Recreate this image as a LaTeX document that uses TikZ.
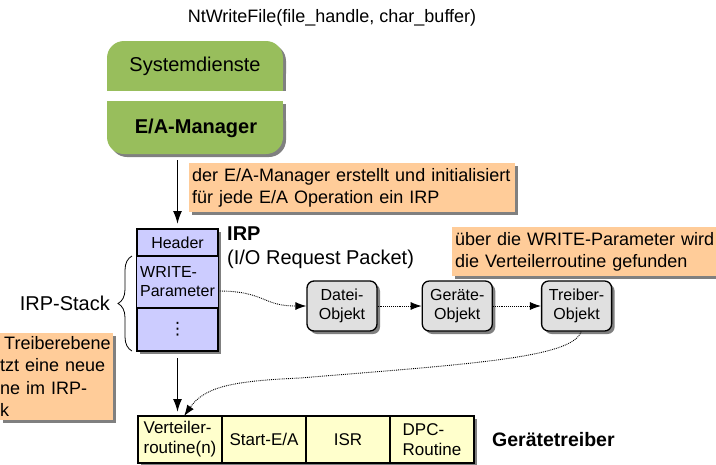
\documentclass[tikz,border=0pt]{standalone}
\usepackage{fontspec}
\setmainfont{Liberation Sans}
\newfontfamily\symfont{DejaVu Sans}
\usepackage{tikz}
\usetikzlibrary{shapes}
\usetikzlibrary{calc}
\usetikzlibrary{arrows.meta}
\usetikzlibrary{shadows}
\usetikzlibrary{decorations.pathreplacing}
\usetikzlibrary{positioning}

\definecolor{mgrgreen}{RGB}{152,190,92}
\definecolor{notepeach}{RGB}{255,204,153}
\definecolor{irpblue}{RGB}{204,204,255}
\definecolor{objgray}{RGB}{224,224,224}
\definecolor{drvyellow}{RGB}{255,255,204}
\definecolor{shadowgray}{RGB}{128,128,128}

\tikzset{
	dropsh/.style={drop shadow={shadow xshift=3pt, shadow yshift=-3pt, fill=shadowgray, opacity=1}},
	note/.style={fill=notepeach, dropsh, anchor=north west, align=left, inner xsep=3pt, inner ysep=2pt, font=\fontsize{18}{21.5}\selectfont},
	irpcell/.style={draw, line width=1.2pt, outer sep=0pt, fill=irpblue, dropsh, minimum width=81pt, font=\fontsize{16}{19}\selectfont},
	obj/.style={draw, line width=1.3pt, fill=objgray, dropsh, rounded corners=7pt, minimum width=70pt, minimum height=50pt, align=center, font=\fontsize{16}{19}\selectfont},
	drvcell/.style={draw, line width=1.1pt, outer sep=0pt, fill=drvyellow, dropsh, minimum width=84pt, minimum height=47pt, align=left, font=\fontsize{17}{20}\selectfont},
	flow/.style={-{Latex[length=13pt,width=9pt]}, line width=1.6pt},
	link/.style={-{Latex[length=11pt,width=8pt]}, densely dotted, line width=0.9pt}
}

\begin{document}
\begin{tikzpicture}[x=1pt,y=-1pt]
	\useasboundingbox (0,0) rectangle (716,464);

	% Title
	\node[font=\fontsize{18}{21}\selectfont] (title) at (332,18) {NtWriteFile(file\_handle, char\_buffer)};

	% System services and I/O manager
	\fill[shadowgray, rounded corners=17pt] (110,44) rectangle (286,90.5);
	\fill[shadowgray] (110,70) rectangle (286,90.5);
	\fill[mgrgreen, rounded corners=17pt] (107,41) rectangle (283,90.5);
	\fill[mgrgreen] (107,70) rectangle (283,90.5);
	\node[font=\fontsize{20}{24}\selectfont] (sys) at (195,66) {Systemdienste};

	\fill[shadowgray, rounded corners=17pt] (110,104) rectangle (286,157);
	\fill[shadowgray] (110,104) rectangle (286,130);
	\fill[mgrgreen, rounded corners=17pt] (107,101) rectangle (283,154);
	\fill[mgrgreen] (107,101) rectangle (283,125);
	\node[font=\fontsize{20}{24}\selectfont\bfseries] (mgr) at (196,128) {E/A-Manager};
	\coordinate (mgrbot) at (177.5,154);

	% Notes
	\node[note, text width=320pt, minimum height=49pt] (noteA) at (189,163) {der E/A-Manager erstellt und initialisiert\\für jede E/A Operation ein IRP};
	\node[note, text width=264pt, minimum height=49pt] (noteB) at (452,227) {über die WRITE-Parameter wird\\die Verteilerroutine gefunden};
	\node[note, text width=113pt, inner xsep=0pt, minimum height=87pt, font=\fontsize{18}{22.5}\selectfont] (noteC) at (0,333) {\hspace*{4pt}Treiberebene\\tzt eine neue\\ne im IRP-\\k};

	% IRP
	\node[irpcell, minimum height=27pt] (hdr) at (177.5,242.5) {Header};
	\node[irpcell, minimum height=52pt, align=left, below=0pt of hdr] (wp) {WRITE-\\Parameter};
	\node[irpcell, minimum height=43pt, below=0pt of wp] (dots) {{\symfont\fontsize{17}{20}\selectfont ⋮}};
	\node[anchor=north west, inner sep=0pt, align=left, font=\fontsize{20}{24}\selectfont] (irp) at (227,227) {\textbf{IRP}\\(I/O Request Packet)};

	\draw[decorate, decoration={brace, amplitude=14pt}, line width=0.8pt] (132,351) -- (132,256);
	\node[anchor=east, inner sep=0pt, font=\fontsize{20}{24}\selectfont] (stack) at (110,303) {IRP-Stack};

	% Objects
	\node[obj] (datei) at (342,306) {Datei-\\Objekt};
	\node[obj, right=44pt of datei] (geraete) {Geräte-\\Objekt};
	\node[obj, right=48pt of geraete] (treiber) {Treiber-\\Objekt};

	% Device driver
	\node[drvcell] (vert) at (180,439.5) {Verteiler-\\routine(n)};
	\node[drvcell, right=0pt of vert] (start) {Start-E/A};
	\node[drvcell, right=0pt of start] (isr) {ISR};
	\node[drvcell, right=0pt of isr] (dpc) {DPC-\\Routine};
	\node[anchor=west, inner sep=0pt, font=\fontsize{19.5}{23}\selectfont\bfseries] (drv) at (492,440) {Gerätetreiber};

	% Connectors
	\draw[flow, shorten <=6pt, shorten >=5pt] (mgrbot) -- (hdr.north);
	\draw[flow, shorten <=7pt, shorten >=4pt] (dots.south) -- (dots.south |- vert.north);
	\draw[link] ([yshift=-9pt]wp.east) .. controls (265,291) and (262,306) .. (datei.west);
	\draw[link] (datei) -- (geraete);
	\draw[link] (geraete) -- (treiber);
	\draw[link] (treiber.-80) .. controls (572,358) and (470,364) .. (300,378) .. controls (235,381) and (205,386) .. (vert.80);
\end{tikzpicture}
\end{document}
